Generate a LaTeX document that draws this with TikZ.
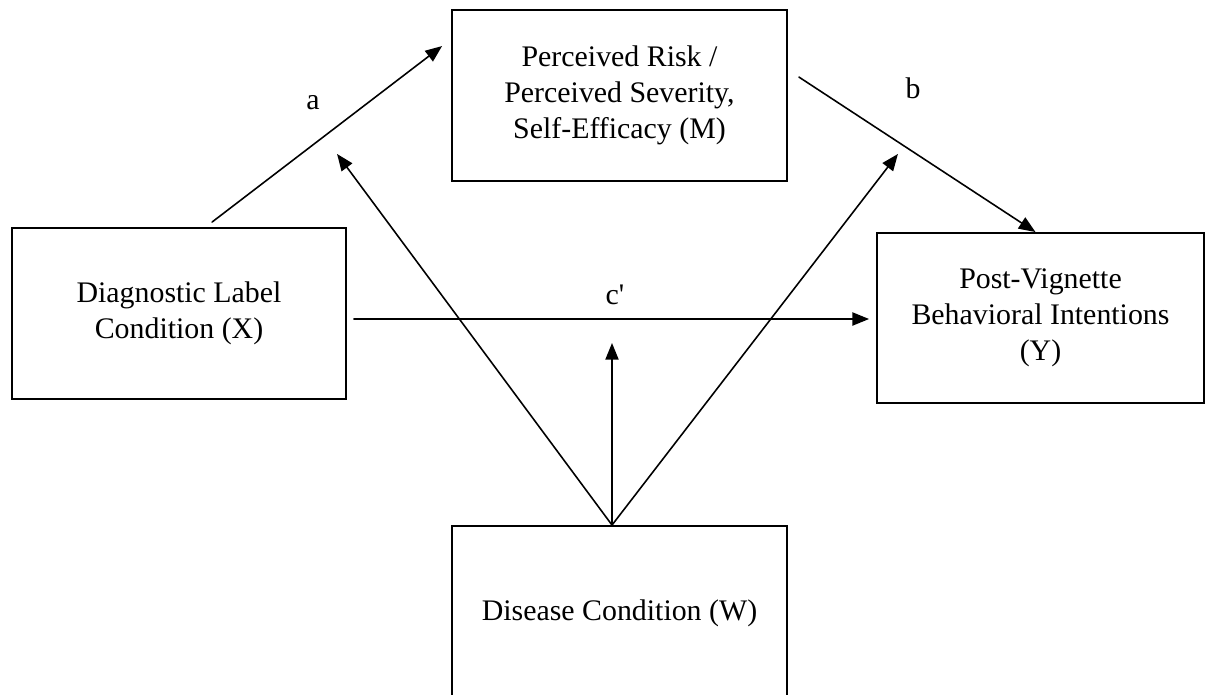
\documentclass[tikz,border=0pt]{standalone}
\usepackage{fontspec}
\setmainfont{Liberation Serif}
\usetikzlibrary{calc}
\usetikzlibrary{arrows.meta}

\begin{document}
\begin{tikzpicture}[
  x=0.02cm, y=-0.02cm,
  line cap=round,
  >={Triangle[length=9.5pt,width=7.5pt]},
  varbox/.style={draw, line width=1.1pt, align=center, inner sep=0pt,
    font=\fontsize{17}{20.5}\selectfont},
  link/.style={->, line width=0.9pt},
  pathlabel/.style={font=\fontsize{17}{20}\selectfont, inner sep=0pt}
]

\useasboundingbox (0,0) rectangle (1206,694);
\clip (0,0) rectangle (1206,694);

% the four variables
\node [varbox, minimum width=6.7cm, minimum height=3.42cm] (M) at (619.5,95.5)
  {Perceived Risk /\\Perceived Severity,\\Self-Efficacy (M)};
\node [varbox, minimum width=6.68cm, minimum height=3.42cm] (X) at (179,313.5)
  {Diagnostic Label\\Condition (X)};
\node [varbox, minimum width=6.54cm, minimum height=3.4cm] (Y) at (1040.5,318)
  {Post-Vignette\\Behavioral Intentions\\(Y)};
\node [varbox, minimum width=6.7cm, minimum height=3.48cm] (W) at (619.5,613)
  {Disease Condition (W)};

% free ends of the paths
\coordinate (aStart) at ($(X.north west)+(201,-5)$);
\coordinate (aEnd)   at ($(M.north west)+(-9,37)$);
\coordinate (bStart) at ($(M.north east)+(11,68)$);
\coordinate (bEnd)   at ($(Y.north)+(-5,0)$);
\coordinate (cStart) at ($(X.east)+(7,5.5)$);
\coordinate (cEnd)   at ($(Y.west |- cStart)+(-7,0)$);
\coordinate (wTop)   at ($(W.north)+(-7.5,0)$);
\coordinate (wM)     at ($(M.south west)+(-114,-28)$);
\coordinate (wY)     at ($(M.south east)+(110,-28)$);
\coordinate (wC)     at ($(wTop |- cStart)+(0,24)$);

\draw [link] (aStart) -- (aEnd);
\draw [link] (bStart) -- (bEnd);
\draw [link] (cStart) -- (cEnd);

% moderator
\draw [link] (wTop) -- (wM);
\draw [link] (wTop) -- (wC);
\draw [link] (wTop) -- (wY);

\node [pathlabel] (labA) at (313,103) {a};
\node [pathlabel] (labB) at (913,88) {b};
\node [pathlabel] (labC) at (615,295) {c\textquotesingle};

\end{tikzpicture}
\end{document}
